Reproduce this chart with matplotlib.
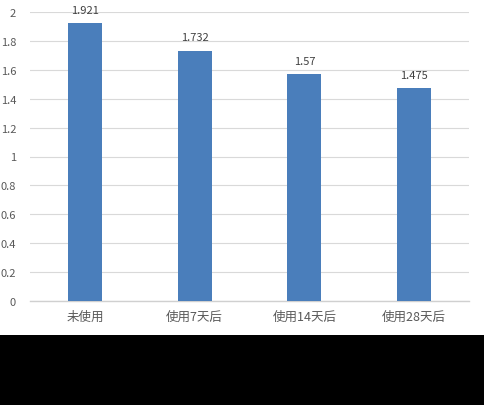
import matplotlib
matplotlib.use('Agg')
import matplotlib.pyplot as plt
from matplotlib.patches import Rectangle

plt.rcParams['font.family'] = ['Noto Sans CJK SC', 'DejaVu Sans']

categories = ['未使用', '使用7天后', '使用14天后', '使用28天后']
values = [1.921, 1.732, 1.57, 1.475]
yticks = [0, 0.2, 0.4, 0.6, 0.8, 1, 1.2, 1.4, 1.6, 1.8, 2]
ytick_labels = ['0', '0.2', '0.4', '0.6', '0.8', '1', '1.2', '1.4', '1.6', '1.8', '2']

fig = plt.figure(figsize=(4.84, 4.06), dpi=100)
fig.patch.set_facecolor('white')
# black band at the bottom of the picture
fig.patches.append(Rectangle((0, 0), 1, 70 / 406, transform=fig.transFigure,
                             facecolor='black', edgecolor='none', zorder=0))

ax = fig.add_axes([30 / 484, 104 / 406, 439 / 484, 289 / 406])
x = range(len(categories))
bars = ax.bar(x, values, width=0.31, color='#4a7ebb', zorder=3)
for b, v in zip(bars, values):
    ax.annotate(f'{v:g}', (b.get_x() + b.get_width() / 2, v),
                xytext=(0, 6), textcoords='offset points',
                ha='center', va='bottom', fontsize=8, color='#404040')

ax.set_xlim(-0.5, len(categories) - 0.5)
ax.set_ylim(0, 2)
ax.set_yticks(yticks)
ax.set_yticklabels(ytick_labels)
ax.set_xticks(list(x))
ax.set_xticklabels(categories)
ax.yaxis.grid(True, color='#d9d9d9', linewidth=0.8, zorder=0)
for s in ['top', 'right', 'left']:
    ax.spines[s].set_visible(False)
ax.spines['bottom'].set_color('#d0d0d0')
ax.spines['bottom'].set_linewidth(1.0)
ax.tick_params(axis='both', length=0, colors='#595959')
ax.tick_params(axis='y', labelsize=8, pad=10)
ax.tick_params(axis='x', labelsize=9, pad=6)

fig.savefig('out.png', dpi=100, facecolor=fig.get_facecolor())
